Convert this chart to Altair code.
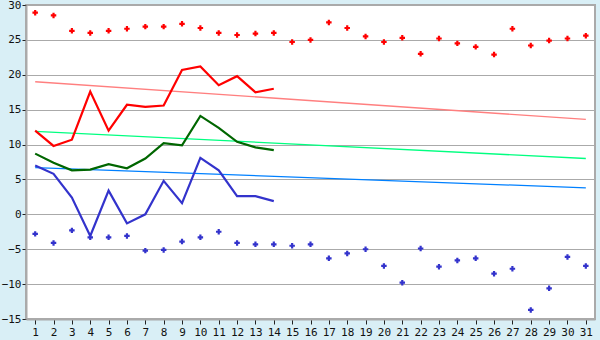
import altair as alt
import pandas as pd

days = list(range(1, 32))
rec_max = [28.9, 28.5, 26.3, 26.0, 26.3, 26.6, 26.9, 26.9, 27.3, 26.7, 26.0, 25.7, 25.9, 26.0, 24.7,
           25.0, 27.5, 26.7, 25.5, 24.7, 25.3, 23.0, 25.2, 24.5, 24.0, 22.9, 26.6, 24.2, 24.9, 25.2, 25.6]
rec_min = [-2.8, -4.1, -2.3, -3.3, -3.3, -3.1, -5.2, -5.1, -3.9, -3.3, -2.5, -4.1, -4.3, -4.3, -4.5,
           -4.3, -6.3, -5.6, -5.0, -7.4, -9.8, -4.9, -7.5, -6.6, -6.3, -8.5, -7.8, -13.7, -10.6, -6.1, -7.4]

obs_days = list(range(1, 15))
tmax = [12.0, 9.8, 10.7, 17.6, 12.0, 15.7, 15.4, 15.6, 20.7, 21.2, 18.5, 19.8, 17.5, 18.0]
tmean = [8.7, 7.4, 6.3, 6.4, 7.2, 6.6, 8.0, 10.2, 9.9, 14.1, 12.4, 10.4, 9.6, 9.2]
tmin = [7.0, 5.8, 2.4, -3.1, 3.4, -1.3, 0.0, 4.8, 1.6, 8.1, 6.3, 2.6, 2.6, 1.9]

trend_days = [1, 31]
trend_max = [19.0, 13.6]
trend_mean = [11.9, 8.0]
trend_min = [6.7, 3.8]

FONT = "DejaVu Sans Mono"

x_enc = alt.X("day:Q",
              scale=alt.Scale(domain=[0.5, 31.5], nice=False, zero=False),
              axis=alt.Axis(values=days, title=None, grid=False, format="d",
                            domainColor="#aaaaaa", domainWidth=2,
                            tickColor="#222222", tickSize=5, labelPadding=2,
                            labelFont=FONT, labelFontSize=11, labelColor="#111111"))
y_scale = alt.Scale(domain=[-15, 30], nice=False, zero=False)
y_axis = alt.Axis(values=list(range(-15, 31, 5)), title=None, grid=True,
                  gridColor="#aaaaaa", gridWidth=1,
                  domainColor="#aaaaaa", domainWidth=2,
                  tickColor="#222222", tickSize=4, labelPadding=1,
                  labelFont=FONT, labelFontSize=11, labelColor="#111111")

pts_max = pd.DataFrame({"day": days, "v": rec_max})
pts_min = pd.DataFrame({"day": days, "v": rec_min})
obs = pd.DataFrame({"day": obs_days, "tmax": tmax, "tmean": tmean, "tmin": tmin})
trend = pd.DataFrame({"day": trend_days, "tmax": trend_max, "tmean": trend_mean, "tmin": trend_min})

base_y = lambda f: alt.Y(f + ":Q", scale=y_scale, axis=y_axis)

layers = []
# trend lines
for f, c in [("tmax", "#ff7f7f"), ("tmean", "#00ff80"), ("tmin", "#0080ff")]:
    layers.append(alt.Chart(trend).mark_line(color=c, strokeWidth=1.3).encode(x=x_enc, y=base_y(f)))
# observed lines
for f, c in [("tmax", "#ff0000"), ("tmean", "#006600"), ("tmin", "#3333cc")]:
    layers.append(alt.Chart(obs).mark_line(color=c, strokeWidth=2.2).encode(x=x_enc, y=base_y(f)))
# record points
layers.append(alt.Chart(pts_max).mark_point(shape="cross", filled=True, size=30, color="#ff0000", opacity=1)
              .encode(x=x_enc, y=base_y("v")))
layers.append(alt.Chart(pts_min).mark_point(shape="cross", filled=True, size=30, color="#3333cc", opacity=1)
              .encode(x=x_enc, y=base_y("v")))

chart = alt.layer(*layers).properties(
    width=569, height=314,
    padding={"left": 26, "top": 5, "right": 5, "bottom": 21},
    autosize="none",
    background="#d9eff6",
).configure_view(fill="white", stroke="#aaaaaa", strokeWidth=2)

chart.save("out.html", embed_options={"renderer": "svg", "actions": False})
